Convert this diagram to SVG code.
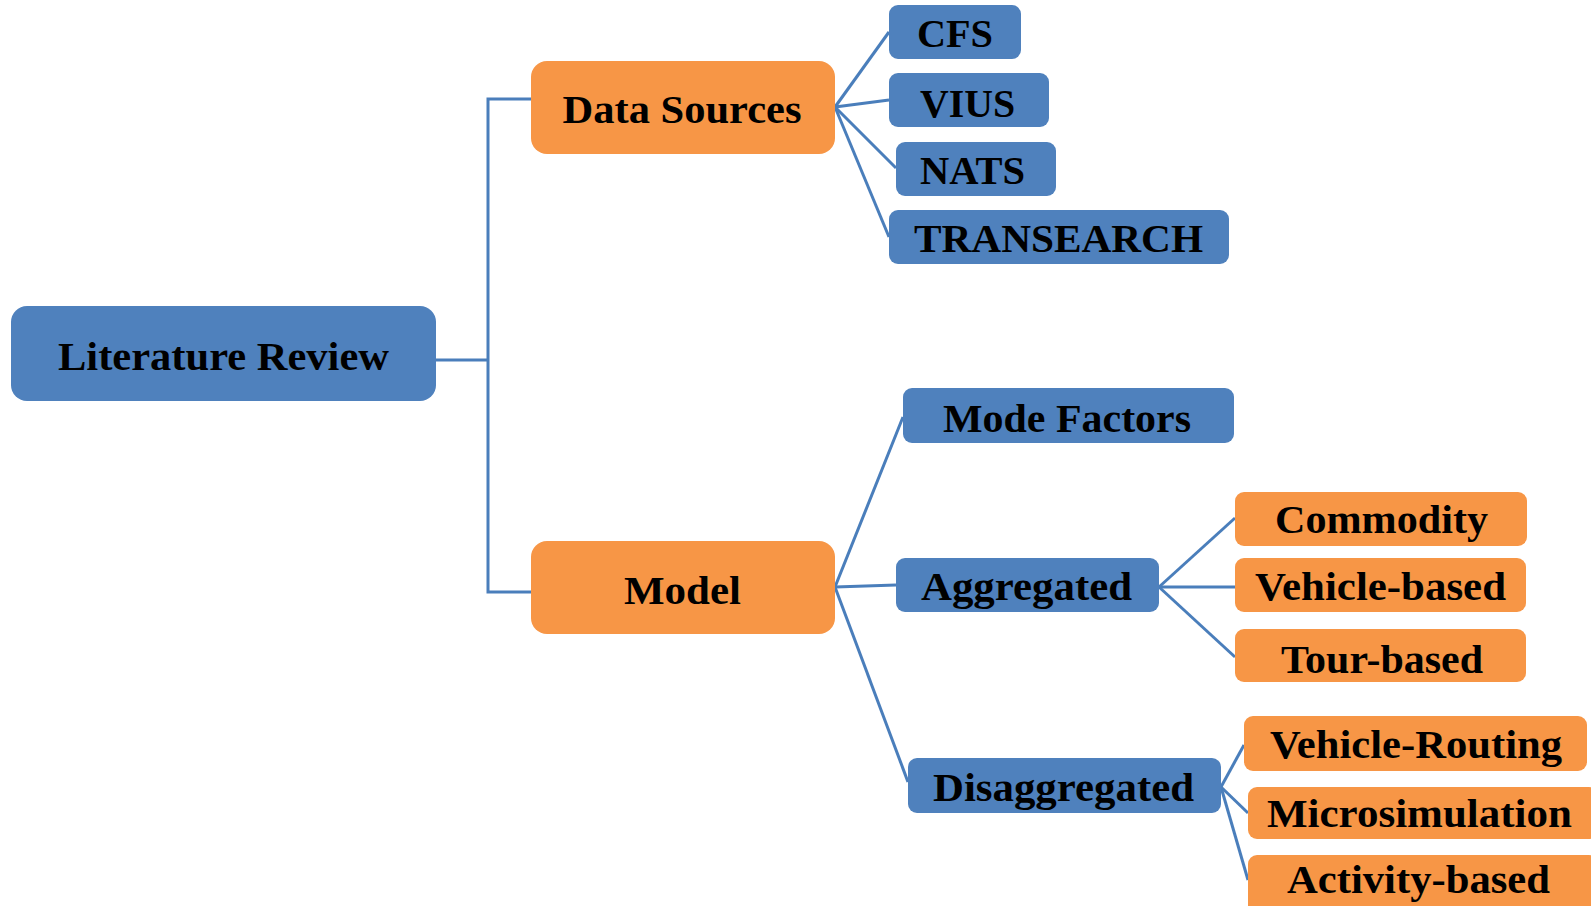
<svg xmlns="http://www.w3.org/2000/svg" width="1591" height="906" viewBox="0 0 1591 906">
  <style>
    .blue { fill: #4F81BD; }
    .orange { fill: #F79646; }
    .label { font-family: "Liberation Serif", "Times New Roman", serif; font-weight: bold; font-size: 41px; fill: #000; text-anchor: middle; }
    .link { stroke: #4A7EBB; stroke-width: 3; fill: none; }
  </style>
  <rect width="1591" height="906" fill="#fff"/>

  <!-- tree connectors -->
  <g id="connectors" class="link">
    <polyline points="436,360 488,360"/>
    <polyline points="535,99 488,99 488,592 536,592"/>
    <line x1="835" y1="107" x2="889" y2="32"/>
    <line x1="835" y1="107" x2="889" y2="100"/>
    <line x1="835" y1="107" x2="896" y2="168"/>
    <line x1="835" y1="107" x2="889" y2="237"/>
    <line x1="835" y1="587" x2="903" y2="417"/>
    <line x1="835" y1="587" x2="896" y2="585"/>
    <line x1="835" y1="587" x2="908" y2="782"/>
    <line x1="1159" y1="587" x2="1235" y2="518"/>
    <line x1="1159" y1="587" x2="1235" y2="587"/>
    <line x1="1159" y1="587" x2="1235" y2="657"/>
    <line x1="1221" y1="787" x2="1244" y2="745"/>
    <line x1="1221" y1="787" x2="1248" y2="813"/>
    <line x1="1221" y1="787" x2="1248" y2="880"/>
  </g>

  <g id="literature-review">
    <rect class="blue" x="11" y="306" width="425" height="95" rx="16"/>
    <text class="label" x="223.5" y="370" textLength="331" lengthAdjust="spacingAndGlyphs">Literature Review</text>
  </g>
  <g id="data-sources">
    <rect class="orange" x="531" y="61" width="304" height="93" rx="16"/>
    <text class="label" x="682" y="123" textLength="239" lengthAdjust="spacingAndGlyphs">Data Sources</text>
  </g>
  <g id="model">
    <rect class="orange" x="531" y="541" width="304" height="93" rx="16"/>
    <text class="label" x="682.5" y="604" textLength="117" lengthAdjust="spacingAndGlyphs">Model</text>
  </g>
  <g id="cfs">
    <rect class="blue" x="889" y="5" width="132" height="54" rx="9"/>
    <text class="label" x="955" y="47" textLength="76" lengthAdjust="spacingAndGlyphs">CFS</text>
  </g>
  <g id="vius">
    <rect class="blue" x="889" y="73" width="160" height="54" rx="9"/>
    <text class="label" x="967.5" y="117" textLength="95" lengthAdjust="spacingAndGlyphs">VIUS</text>
  </g>
  <g id="nats">
    <rect class="blue" x="896" y="142" width="160" height="54" rx="9"/>
    <text class="label" x="972.5" y="184" textLength="105" lengthAdjust="spacingAndGlyphs">NATS</text>
  </g>
  <g id="transearch">
    <rect class="blue" x="889" y="210" width="340" height="54" rx="9"/>
    <text class="label" x="1058.5" y="252" textLength="289" lengthAdjust="spacingAndGlyphs">TRANSEARCH</text>
  </g>
  <g id="mode-factors">
    <rect class="blue" x="903" y="388" width="331" height="55" rx="9"/>
    <text class="label" x="1067" y="432" textLength="248" lengthAdjust="spacingAndGlyphs">Mode Factors</text>
  </g>
  <g id="aggregated">
    <rect class="blue" x="896" y="558" width="263" height="54" rx="9"/>
    <text class="label" x="1026.5" y="600" textLength="211" lengthAdjust="spacingAndGlyphs">Aggregated</text>
  </g>
  <g id="commodity">
    <rect class="orange" x="1235" y="492" width="292" height="54" rx="9"/>
    <text class="label" x="1381.5" y="533" textLength="213" lengthAdjust="spacingAndGlyphs">Commodity</text>
  </g>
  <g id="vehicle-based">
    <rect class="orange" x="1235" y="558" width="291" height="54" rx="9"/>
    <text class="label" x="1380.5" y="600" textLength="251" lengthAdjust="spacingAndGlyphs">Vehicle-based</text>
  </g>
  <g id="tour-based">
    <rect class="orange" x="1235" y="629" width="291" height="53" rx="9"/>
    <text class="label" x="1382" y="673" textLength="202" lengthAdjust="spacingAndGlyphs">Tour-based</text>
  </g>
  <g id="disaggregated">
    <rect class="blue" x="908" y="758" width="313" height="55" rx="9"/>
    <text class="label" x="1063.5" y="801" textLength="261" lengthAdjust="spacingAndGlyphs">Disaggregated</text>
  </g>
  <g id="vehicle-routing">
    <rect class="orange" x="1244" y="716" width="343" height="55" rx="9"/>
    <text class="label" x="1416" y="758" textLength="292" lengthAdjust="spacingAndGlyphs">Vehicle-Routing</text>
  </g>
  <g id="microsimulation">
    <rect class="orange" x="1248" y="787" width="350" height="52" rx="9"/>
    <text class="label" x="1419.5" y="827" textLength="305" lengthAdjust="spacingAndGlyphs">Microsimulation</text>
  </g>
  <g id="activity-based">
    <rect class="orange" x="1248" y="855" width="350" height="60" rx="9"/>
    <text class="label" x="1418.5" y="893" textLength="263" lengthAdjust="spacingAndGlyphs">Activity-based</text>
  </g>
</svg>
